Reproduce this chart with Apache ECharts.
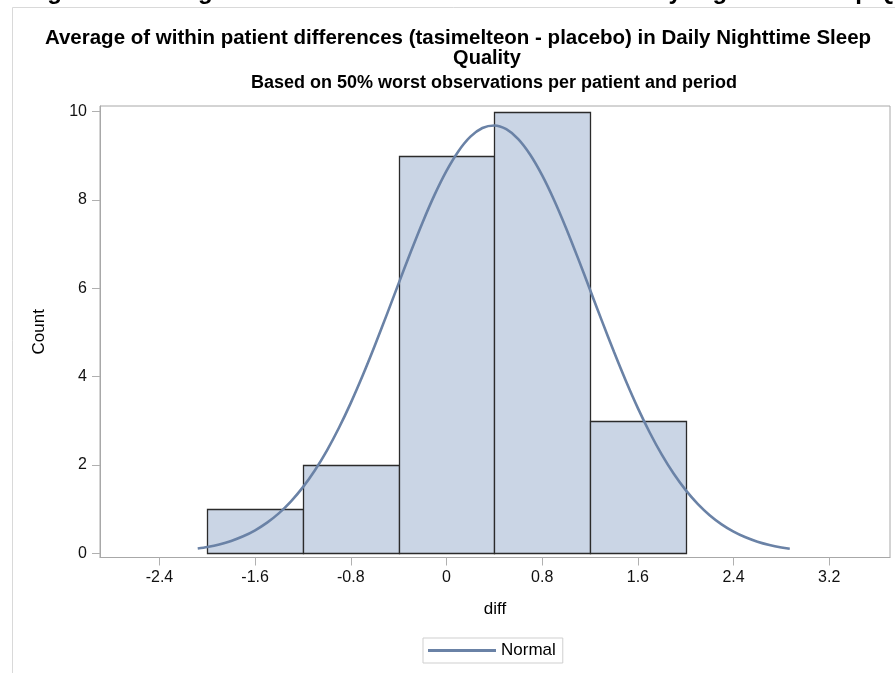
<!DOCTYPE html>
<html><head><meta charset="utf-8">
<script src="https://cdn.jsdelivr.net/npm/echarts@6/dist/echarts.min.js"></script>
<style>html,body{margin:0;padding:0;background:#fff}#c{width:895px;height:673px}</style>
</head><body><div id="c"></div>
<script>
// Histogram bins (diff) and counts
const binStarts = [-2.0, -1.2, -0.4, 0.4, 1.2];
const binEnds   = [-1.2, -0.4, 0.4, 1.2, 2.0];
const counts    = [1, 2, 9, 10, 3];
// Normal curve
const curveX = [-2.08, -2.0, -1.9, -1.8, -1.7, -1.6, -1.5, -1.4, -1.3, -1.2, -1.1, -1.0, -0.9, -0.8, -0.7, -0.6, -0.5, -0.4, -0.3, -0.2, -0.1, 0.0, 0.1, 0.2, 0.3, 0.4, 0.5, 0.6, 0.7, 0.8, 0.9, 1.0, 1.1, 1.2, 1.3, 1.4, 1.5, 1.6, 1.7, 1.8, 1.9, 2.0, 2.1, 2.2, 2.3, 2.4, 2.5, 2.6, 2.7, 2.8, 2.87];
const curveY = [0.107, 0.143, 0.202, 0.281, 0.385, 0.521, 0.694, 0.910, 1.177, 1.499, 1.882, 2.327, 2.837, 3.407, 4.031, 4.700, 5.400, 6.113, 6.818, 7.494, 8.117, 8.661, 9.107, 9.435, 9.632, 9.689, 9.604, 9.380, 9.026, 8.559, 7.997, 7.363, 6.679, 5.970, 5.258, 4.563, 3.902, 3.288, 2.730, 2.233, 1.800, 1.430, 1.119, 0.863, 0.656, 0.491, 0.362, 0.263, 0.189, 0.133, 0.104];
// Tick labels
const xTicks = [-2.4, -1.6, -0.8, 0, 0.8, 1.6, 2.4, 3.2];
const yTicks = [0, 2, 4, 6, 8, 10];

const FONT = '"Liberation Sans", Arial, sans-serif';
const barData = binStarts.map((s, i) => [s, binEnds[i], counts[i]]);
const curveData = curveX.map((x, i) => [x, curveY[i]]);

const chart = echarts.init(document.getElementById('c'), null, {renderer: 'canvas'});
chart.setOption({
  animation: false,
  backgroundColor: '#ffffff',
  textStyle: {fontFamily: FONT},
  graphic: [
    {type: 'polyline', silent: true, shape: {points: [[12.5, 673], [12.5, 7.5], [895, 7.5]]},
     style: {stroke: '#d9d9d9', lineWidth: 1, fill: null}},
    {type: 'text', left: 26, top: -20, silent: true,
     style: {text: 'Figure 11 Histogram of Within Patient Differences in Daily Nighttime Sleep Quality',
             font: 'bold 24px ' + FONT, fill: '#000'}},
    {type: 'text', x: 458, y: 38, silent: true,
     style: {text: 'Average of within patient differences (tasimelteon - placebo) in Daily Nighttime Sleep',
             font: 'bold 20.5px ' + FONT, fill: '#000', align: 'center', verticalAlign: 'middle'}},
    {type: 'text', x: 487, y: 58, silent: true,
     style: {text: 'Quality', font: 'bold 20px ' + FONT, fill: '#000', align: 'center', verticalAlign: 'middle'}},
    {type: 'text', x: 494, y: 83, silent: true,
     style: {text: 'Based on 50% worst observations per patient and period', font: 'bold 18px ' + FONT,
             fill: '#000', align: 'center', verticalAlign: 'middle'}}
  ],
  grid: {left: 100, right: 5, top: 106, bottom: 115.5, show: true, borderColor: '#a8a8a8', borderWidth: 1, backgroundColor: 'transparent'},
  legend: {
    left: 423, top: 638, padding: [4, 7, 4, 5], itemGap: 6,
    borderColor: '#cfcfcf', borderWidth: 1,
    itemWidth: 68, itemHeight: 3, icon: 'rect',
    textStyle: {fontSize: 17, color: '#000', fontFamily: FONT},
    data: [{name: 'Normal', icon: 'rect'}]
  },
  xAxis: {
    type: 'value', min: -2.897, max: 3.708,
    name: 'diff', nameLocation: 'middle', nameGap: 43,
    nameTextStyle: {fontSize: 17, color: '#000', fontFamily: FONT},
    axisLine: {show: true, onZero: false, lineStyle: {color: '#a8a8a8'}},
    axisTick: {show: true, length: 8, customValues: xTicks, lineStyle: {color: '#b0b0b0'}},
    axisLabel: {customValues: xTicks, fontSize: 16, color: '#111', margin: 12, fontFamily: FONT,
                formatter: v => String(v)},
    splitLine: {show: false}
  },
  yAxis: {
    type: 'value', min: -0.095, max: 10.13,
    name: 'Count', nameLocation: 'middle', nameGap: 52, nameRotate: 90,
    nameTextStyle: {fontSize: 17, color: '#000', fontFamily: FONT},
    axisLine: {show: true, onZero: false, lineStyle: {color: '#a8a8a8'}},
    axisTick: {show: true, length: 8, customValues: yTicks, lineStyle: {color: '#b0b0b0'}},
    axisLabel: {customValues: yTicks, fontSize: 16, color: '#111', margin: 13, fontFamily: FONT},
    splitLine: {show: false}
  },
  series: [
    {
      type: 'custom', name: 'Histogram', z: 2,
      data: barData,
      encode: {x: [0, 1], y: 2},
      renderItem: function (params, api) {
        const p0 = api.coord([api.value(0), 0]);
        const p1 = api.coord([api.value(1), api.value(2)]);
        return {
          type: 'rect',
          shape: {x: Math.round(p0[0]) + 0.5, y: Math.round(p1[1]) + 0.5,
                  width: Math.round(p1[0]) - Math.round(p0[0]), height: Math.round(p0[1]) - Math.round(p1[1])},
          style: {fill: '#cad5e5', stroke: '#2b2b2b', lineWidth: 1.3}
        };
      }
    },
    {
      type: 'line', name: 'Normal', z: 3,
      data: curveData, smooth: 0.3, symbol: 'none',
      lineStyle: {color: '#6a82a6', width: 2.6},
      itemStyle: {color: '#6a82a6'}
    }
  ]
});
</script></body></html>
